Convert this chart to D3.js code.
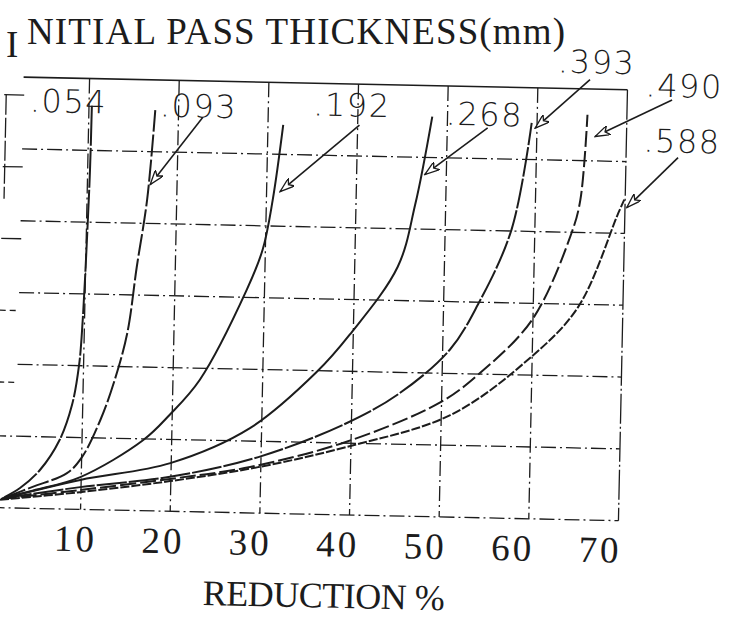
<!DOCTYPE html>
<html>
<head>
<meta charset="utf-8">
<script src="https://cdn.jsdelivr.net/npm/d3@7"></script>
<style>
  html, body { margin: 0; padding: 0; background: #fff; }
  svg { display: block; }
</style>
</head>
<body>
<div id="chart"></div>
<script>
// === Data ===

// Reduction % ticks on the bottom axis
const xTicks = [10, 20, 30, 40, 50, 60, 70];
// grid rows (the left-hand scale is cut off in the scan, so plain grid units)
const yGrid = [0, 1, 2, 3, 4, 5, 6];
// short ticks of the cut-off left scale
const leftStubs = [2, 3, 4, 5, 6];

// initial pass thickness (mm), one per curve
const thickness = [".054", ".093", ".192", ".268", ".393", ".490", ".588"];

// curves: [reduction %, grid units]
const c054 = [[1.5,0.15],[3.2,0.28],[5.4,0.54],[7.5,0.96],[8.8,1.45],[9.5,2.01],[9.8,2.64],[10.08,3.75],[10.26,4.73],[10.32,5.64]];
const c093 = [[1.5,0.14],[4.6,0.30],[8.4,0.50],[10.0,0.72],[12.0,1.25],[13.5,1.81],[14.8,2.47],[15.7,3.39],[16.7,4.33],[17.4,5.58]];
const c192 = [[1.4,0.14],[4.7,0.25],[9.9,0.45],[16.8,0.98],[19.7,1.34],[23.0,1.84],[28.0,3.10],[29.7,3.67],[30.7,4.36],[31.7,5.41]];
const c268 = [[1.3,0.13],[9.9,0.41],[19.9,0.67],[28.7,1.18],[36.0,1.98],[39.6,2.51],[44.8,3.47],[46.6,4.34],[48.3,5.57]];
const c393 = [[1.2,0.13],[9.9,0.31],[19.9,0.48],[29.7,0.78],[39.5,1.28],[45.3,1.71],[50.8,2.33],[53.8,2.96],[57.4,4.02],[59.4,5.51]];
const c490 = [[1.1,0.12],[9.9,0.27],[19.9,0.45],[28.8,0.64],[39.5,1.02],[49.8,1.59],[54.0,1.99],[59.9,2.77],[64.1,3.99],[65.0,4.45],[65.6,5.64]];
const c588 = [[1.0,0.11],[9.9,0.24],[19.9,0.42],[29.7,0.64],[39.6,0.95],[51.0,1.42],[59.5,2.21],[65.0,2.96],[69.2,4.26],[69.9,4.47]];

const curves = [c054, c093, c192, c268, c393, c490, c588];

// === Annotations (label spots and arrows, in data units) ===
const labelAt = [[3.4,5.52],[17.9,5.49],[35.0,5.55],[49.8,5.46],[62.2,6.22],[72.0,5.91],[71.9,5.14]];
const arrows = [
  null,
  [[22.7,5.49],[17.0,4.54]],
  [[40.2,5.43],[31.5,4.48]],
  [[54.5,5.43],[47.6,4.76]],
  [[65.8,6.13],[59.8,5.44]],
  [[75.0,5.87],[66.5,5.34]],
  [[75.8,5.07],[70.2,4.36]]
];

// === Chart ===
const width = 730, height = 628;
const ink = "#1c1c1c";
const typed = "'Liberation Serif', 'DejaVu Serif', serif";

const svg = d3.select("#chart").append("svg")
  .attr("width", width)
  .attr("height", height)
  .style("background", "#fff");

const defs = svg.append("defs");
defs.append("marker")
  .attr("id", "head")
  .attr("viewBox", "0 0 16 10")
  .attr("refX", 15).attr("refY", 5)
  .attr("markerWidth", 16).attr("markerHeight", 10)
  .attr("markerUnits", "userSpaceOnUse")
  .attr("orient", "auto")
  .append("path")
  .attr("d", "M0,0 L15,5 L0,10 L4,5 Z")
  .attr("fill", "#fff")
  .attr("stroke", ink)
  .attr("stroke-width", 1.3);

// the scan is tilted a little, so the plot is drawn rotated
const plot = svg.append("g").attr("transform", "rotate(1.2,350,300)");

const x = d3.scaleLinear().domain([10, 70]).range([85, 623]);
const y = d3.scaleLinear().domain([0, 6]).range([515, 84]);

const gridDash = "15,4,2,4";

// horizontal grid
plot.append("g").selectAll("line")
  .data(yGrid)
  .enter()
  .append("line")
  .attr("x1", d => d <= 1 ? -6 : 19)
  .attr("x2", x(70))
  .attr("y1", d => y(d))
  .attr("y2", d => y(d))
  .attr("stroke", ink)
  .attr("stroke-width", d => d == 6 ? 1.6 : 1.3)
  .attr("stroke-dasharray", d => d == 6 ? null : gridDash);

// vertical grid
plot.append("g").selectAll("line")
  .data(xTicks)
  .enter()
  .append("line")
  .attr("x1", d => x(d))
  .attr("x2", d => x(d))
  .attr("y1", y(6))
  .attr("y2", y(0))
  .attr("stroke", ink)
  .attr("stroke-width", 1.3)
  .attr("stroke-dasharray", d => d == 70 ? "30,3,2,3" : gridDash);

// stubs of the cut-off left scale
const stubOff = 18;
plot.append("g").selectAll("line")
  .data(leftStubs)
  .enter()
  .append("line")
  .attr("x1", 0)
  .attr("x2", 20)
  .attr("y1", d => y(d) + stubOff)
  .attr("y2", d => y(d) + stubOff)
  .attr("stroke", ink)
  .attr("stroke-width", 1.3)
  .attr("stroke-dasharray", d => d < 4 ? "6,4" : null);

plot.append("line")
  .attr("x1", 2).attr("x2", 2)
  .attr("y1", y(6) + stubOff)
  .attr("y2", y(4.3))
  .attr("stroke", ink)
  .attr("stroke-width", 1.3)
  .attr("stroke-dasharray", "20,3");

// curves
const line = d3.line()
  .x(d => x(d[0]))
  .y(d => y(d[1]))
  .curve(d3.curveCatmullRom.alpha(0.5));

const curveDash = ["40,2", "22,3", null, null, "30,2", "16,4", "9,2"];

plot.append("g").selectAll("path")
  .data(curves)
  .enter()
  .append("path")
  .attr("d", line)
  .attr("fill", "none")
  .attr("stroke", ink)
  .attr("stroke-width", 2)
  .attr("stroke-dasharray", (d, i) => curveDash[i]);

// thickness labels
plot.append("g").selectAll("text")
  .data(thickness)
  .enter()
  .append("text")
  .attr("x", (d, i) => x(labelAt[i][0]))
  .attr("y", (d, i) => y(labelAt[i][1]))
  .attr("font-family", "'DejaVu Sans', sans-serif")
  .attr("font-weight", 200)
  .attr("font-size", 32)
  .attr("letter-spacing", 1.5)
  .attr("fill", ink)
  .text(d => d);

// arrows
plot.append("g").selectAll("line")
  .data(arrows.filter(a => a))
  .enter()
  .append("line")
  .attr("x1", d => x(d[0][0]))
  .attr("y1", d => y(d[0][1]))
  .attr("x2", d => x(d[1][0]))
  .attr("y2", d => y(d[1][1]))
  .attr("stroke", ink)
  .attr("stroke-width", 1.6)
  .attr("marker-end", "url(#head)");

// bottom axis labels
const xAxis = d3.axisBottom(x).tickValues(xTicks).tickSize(0).tickPadding(0);
const ax = plot.append("g")
  .attr("transform", `translate(0,${y(0) + 42})`)
  .call(xAxis);
ax.select(".domain").remove();
ax.selectAll("text")
  .attr("y", 0)
  .attr("dy", 0)
  .attr("dx", d => -5 - (d - 10) * 0.22)
  .attr("font-family", typed)
  .attr("font-size", 37)
  .attr("letter-spacing", 3)
  .attr("fill", ink);

plot.append("text")
  .attr("x", 330)
  .attr("y", y(0) + 93)
  .attr("text-anchor", "middle")
  .attr("font-family", typed)
  .attr("font-size", 36)
  .attr("textLength", 242)
  .attr("fill", ink)
  .text("REDUCTION %");

// title, typed with a dropped first letter
svg.append("text")
  .attr("x", 6)
  .attr("y", 57)
  .attr("font-family", typed)
  .attr("font-size", 37)
  .attr("fill", ink)
  .text("I");

svg.append("text")
  .attr("x", 27)
  .attr("y", 44)
  .attr("font-family", typed)
  .attr("font-size", 37)
  .attr("textLength", 538)
  .attr("fill", ink)
  .text("NITIAL PASS THICKNESS(mm)");
</script>
</body>
</html>
